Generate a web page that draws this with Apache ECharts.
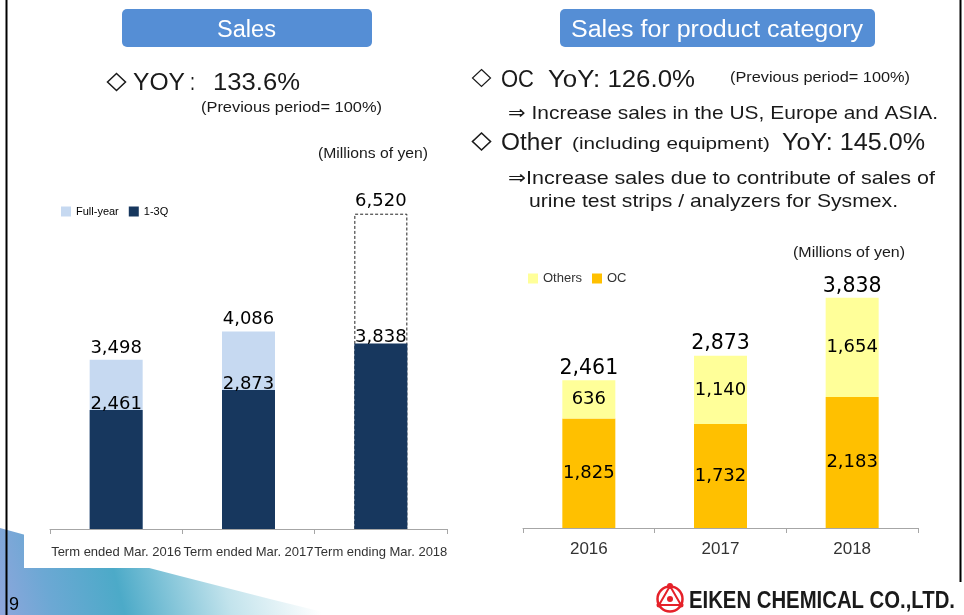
<!DOCTYPE html>
<html>
<head>
<meta charset="utf-8">
<script src="https://cdn.jsdelivr.net/npm/echarts@6/dist/echarts.min.js"></script>
<style>
html,body{margin:0;padding:0;background:#fff;}
#chart{width:964px;height:615px;}
</style>
</head>
<body>
<div id="chart"></div>
<script>
// ---- data ----
const leftCategories = ['Term ended Mar. 2016', 'Term ended Mar. 2017', 'Term ending Mar. 2018'];
const fullYearValues = [3498, 4086, 6520];
const q13Values = [2461, 2873, 3838];
const forecastIndex = 2;
const rightCategories = ['2016', '2017', '2018'];
const ocValues = [1825, 1732, 2183];
const othersValues = [636, 1140, 1654];
const totalValues = [2461, 2873, 3838];

const FONT = "'Liberation Sans', Arial, sans-serif";
const NUMFONT = "'DejaVu Sans', Verdana, sans-serif";
const fmt = p => Number(p.value).toLocaleString('en-US');

const mctx = document.createElement('canvas').getContext('2d');
function fitText(text, x1, x2, yc, size, o) {
  o = o || {};
  const font = (o.weight || 'normal') + ' ' + size + 'px ' + (o.family || FONT);
  mctx.font = font;
  const w = mctx.measureText(text).width;
  return {
    type: 'text', x: x1, y: yc + 0.09 * size, scaleX: (x2 - x1) / w, z: 10,
    style: { text: text, x: 0, y: 0, font: font, fill: o.color || '#1a1a1a',
      textAlign: 'left', textVerticalAlign: 'middle', align: 'left', verticalAlign: 'middle' }
  };
}
function diamond(cx, cy, hw, hh, lw) {
  return { type: 'polygon', z: 10, shape: { points: [[cx, cy - hh], [cx + hw, cy], [cx, cy + hh], [cx - hw, cy]] },
    style: { fill: 'none', stroke: '#1a1a1a', lineWidth: lw } };
}

const graphics = [
  // decorative swoosh
  { type: 'polygon', z: -10, shape: { points: [[0, 528], [80, 550], [180, 576], [270, 599], [335, 615], [0, 615]] },
    style: { fill: { type: 'linear', x: 0, y: 1, x2: 1, y2: 0, colorStops: [
      { offset: 0, color: '#8ea6dc' }, { offset: 0.15, color: '#6ca8d4' }, { offset: 0.35, color: '#4caac8' },
      { offset: 0.65, color: '#c2e3ec' }, { offset: 0.9, color: '#ffffff' }] } } },
  { type: 'rect', z: -5, shape: { x: 24, y: 530, width: 266, height: 38 }, style: { fill: '#ffffff' } },
  // borders
  { type: 'line', z: 10, shape: { x1: 6.5, y1: 0, x2: 6.5, y2: 615 }, style: { stroke: '#000', lineWidth: 2 } },
  { type: 'line', z: 10, shape: { x1: 960.5, y1: 0, x2: 960.5, y2: 582 }, style: { stroke: '#000', lineWidth: 2 } },
  // title boxes
  { type: 'rect', z: 5, shape: { x: 122, y: 9, width: 250, height: 38, r: 5 }, style: { fill: '#558ed5' } },
  fitText('Sales', 217, 276, 29, 23, { color: '#ffffff' }),
  { type: 'rect', z: 5, shape: { x: 560, y: 9, width: 315, height: 38, r: 5 }, style: { fill: '#558ed5' } },
  fitText('Sales for product category', 571, 863, 29, 23, { color: '#ffffff' }),
  // left texts
  diamond(116.5, 82, 9, 8.5, 1.5),
  fitText('YOY', 133, 185, 82, 23),
  fitText(':', 190, 195, 82, 23),
  fitText('133.6%', 213, 300, 82, 23),
  fitText('(Previous period= 100%)', 201, 382, 107, 14),
  fitText('(Millions of yen)', 318, 428, 153, 14),
  // right texts
  diamond(481.5, 78, 9, 8.5, 1.2),
  fitText('OC', 501, 534, 79, 23),
  fitText('YoY: 126.0%', 548, 695, 79, 23),
  fitText('(Previous period= 100%)', 730, 910, 77, 14),
  fitText('\u21D2 Increase sales in the US, Europe and ASIA.', 508, 938, 112, 19),
  diamond(481.5, 141.5, 9, 8.5, 1.6),
  fitText('Other', 501, 562, 142, 23),
  fitText('(including equipment)', 572, 770, 143, 17),
  fitText('YoY: 145.0%', 782, 925, 142, 23),
  fitText('\u21D2Increase sales due to contribute of sales of', 508, 935, 177, 19),
  fitText('urine test strips / analyzers for Sysmex.', 529, 898, 200, 19),
  fitText('(Millions of yen)', 793, 905, 252, 14),
  // page number & logo
  { type: 'text', x: 9, y: 605, z: 10, style: { text: '9', x: 0, y: 0, font: '18px ' + FONT, fill: '#000',
      textAlign: 'left', textVerticalAlign: 'middle', align: 'left', verticalAlign: 'middle' } },
  { type: 'circle', z: 10, shape: { cx: 670, cy: 599, r: 12.5 }, style: { fill: 'none', stroke: '#e52129', lineWidth: 2.5 } },
  { type: 'polygon', z: 10, shape: { points: [[670, 586], [659, 605], [681, 605]] }, style: { fill: 'none', stroke: '#e52129', lineWidth: 2 } },
  { type: 'circle', z: 10, shape: { cx: 670, cy: 599, r: 3 }, style: { fill: '#e52129' } },
  { type: 'circle', z: 10, shape: { cx: 659, cy: 605, r: 2.5 }, style: { fill: '#e52129' } },
  { type: 'circle', z: 10, shape: { cx: 681, cy: 605, r: 2.5 }, style: { fill: '#e52129' } },
  { type: 'circle', z: 10, shape: { cx: 670, cy: 586, r: 3 }, style: { fill: '#e52129' } },
  fitText('EIKEN CHEMICAL CO.,LTD.', 689, 955, 600, 23, { weight: 'bold', color: '#1a1a1a' })
];

const fullYearData = fullYearValues.map((v, i) => i === forecastIndex
  ? { value: v, itemStyle: { color: 'rgba(255,255,255,0)', borderColor: '#222', borderWidth: 1, borderType: [3, 2] } }
  : v);

const axisCommon = {
  type: 'category',
  axisLine: { lineStyle: { color: '#a6a6a6', width: 1 } },
  axisTick: { show: true, length: 5, lineStyle: { color: '#a6a6a6' } },
  splitLine: { show: false }
};

const option = {
  animation: false,
  backgroundColor: '#ffffff',
  grid: [
    { left: 50, right: 517, top: 190.5, bottom: 86 },
    { left: 523, right: 46, top: 258, bottom: 87 }
  ],
  xAxis: [
    Object.assign({}, axisCommon, { gridIndex: 0, data: leftCategories,
      axisLabel: { interval: 0, margin: 17, fontSize: 13, color: '#333', fontFamily: FONT } }),
    Object.assign({}, axisCommon, { gridIndex: 1, data: rightCategories,
      axisLabel: { interval: 0, margin: 13, fontSize: 17, color: '#333', fontFamily: FONT } })
  ],
  yAxis: [
    { gridIndex: 0, type: 'value', min: 0, max: 7000, show: false, splitLine: { show: false } },
    { gridIndex: 1, type: 'value', min: 0, max: 4500, show: false, splitLine: { show: false } }
  ],
  legend: [
    { data: ['Full-year', '1-3Q'], left: 61, top: 206, padding: 0, itemWidth: 10, itemHeight: 10, itemGap: 10,
      icon: 'rect', selectedMode: false, textStyle: { fontSize: 11, color: '#000', fontFamily: FONT } },
    { data: ['Others', 'OC'], left: 528, top: 272, padding: 0, itemWidth: 10, itemHeight: 10, itemGap: 10,
      icon: 'rect', selectedMode: false, textStyle: { fontSize: 13, color: '#333', fontFamily: FONT } }
  ],
  graphic: graphics,
  series: [
    { name: 'Full-year', type: 'bar', xAxisIndex: 0, yAxisIndex: 0, barWidth: 53, barGap: '-100%',
      data: fullYearData, itemStyle: { color: '#c6d9f1' },
      label: { show: true, position: 'top', distance: 3, fontFamily: NUMFONT, fontSize: 18, color: '#000', formatter: fmt } },
    { name: '1-3Q', type: 'bar', xAxisIndex: 0, yAxisIndex: 0, barWidth: 53, barGap: '-100%',
      data: q13Values, itemStyle: { color: '#17375e' },
      label: { show: true, position: 'top', distance: -3, fontFamily: NUMFONT, fontSize: 18, color: '#000', formatter: fmt } },
    { name: 'OC', type: 'bar', xAxisIndex: 1, yAxisIndex: 1, stack: 'cat', barWidth: 53, barGap: '-100%',
      data: ocValues, itemStyle: { color: '#ffc000' },
      label: { show: true, position: 'inside', fontFamily: NUMFONT, fontSize: 18, color: '#000', formatter: fmt } },
    { name: 'Others', type: 'bar', xAxisIndex: 1, yAxisIndex: 1, stack: 'cat', barWidth: 53, barGap: '-100%',
      data: othersValues, itemStyle: { color: '#ffff99' },
      label: { show: true, position: 'inside', fontFamily: NUMFONT, fontSize: 18, color: '#000', formatter: fmt } },
    { name: 'Total', type: 'bar', xAxisIndex: 1, yAxisIndex: 1, barWidth: 53, barGap: '-100%', silent: true, z: 1,
      data: totalValues, itemStyle: { color: 'rgba(0,0,0,0)' },
      label: { show: true, position: 'top', distance: 1, fontFamily: NUMFONT, fontSize: 20.5, color: '#000', formatter: fmt } }
  ]
};

const chart = echarts.init(document.getElementById('chart'), null, { renderer: 'canvas' });
chart.setOption(option);
</script>
</body>
</html>
